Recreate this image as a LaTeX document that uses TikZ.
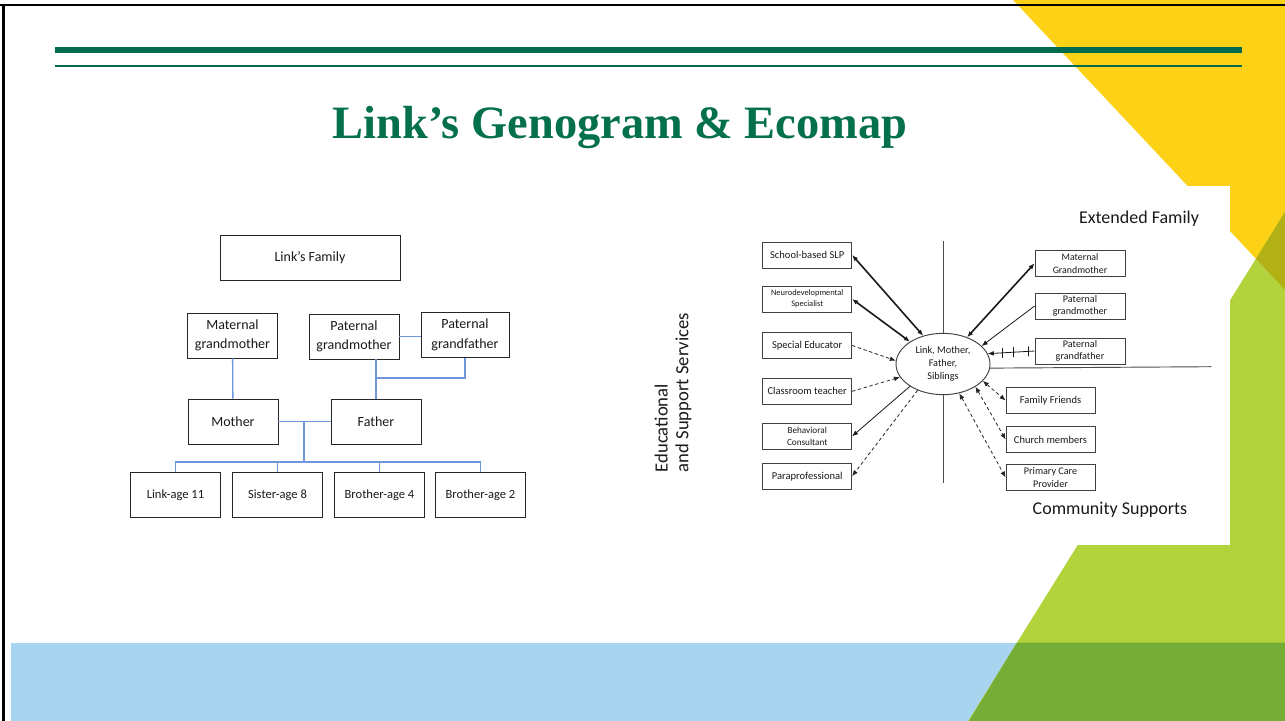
\documentclass[tikz,border=0pt]{standalone}
\usepackage{fontspec}
\setsansfont{Carlito}
\newfontfamily\titlefont{Liberation Serif}
\usepackage{xcolor}
\usetikzlibrary{arrows.meta,shapes.geometric}
\definecolor{slidegreen}{HTML}{006B4F}
\definecolor{titlegreen}{HTML}{04704D}
\definecolor{sunyellow}{HTML}{FCD116}
\definecolor{limegreen}{HTML}{B2D33C}
\definecolor{leafgreen}{HTML}{75AD37}
\definecolor{olivemix}{HTML}{B3B015}
\definecolor{skyblue}{HTML}{A8D4EF}
\definecolor{famblue}{HTML}{6F95DB}
\definecolor{inkgray}{HTML}{1A1A1A}

\begin{document}
\begin{tikzpicture}[x=0.75pt,y=-0.75pt,>={Latex[length=4.5pt,width=3.6pt]},
    genobox/.style={draw=black!85,line width=0.7pt,align=center,inner sep=0pt,
        font=\sffamily\fontsize{10.5}{14.5}\selectfont,text=inkgray,
        minimum width=67.5pt,minimum height=33.75pt},
    kidbox/.style={genobox,font=\sffamily\fontsize{9.4}{11}\selectfont},
    ecobox/.style={draw=black!75,line width=0.6pt,align=center,inner sep=0pt,
        font=\sffamily\fontsize{7.9}{9.5}\selectfont,text=inkgray,
        minimum width=66.75pt,minimum height=19.5pt},
    famline/.style={famblue,line width=1pt},
    axis/.style={black!70,line width=0.7pt},
    strongtie/.style={<->,line width=1.2pt,black!90},
    tie/.style={line width=0.6pt,black!90},
    weaktie/.style={line width=0.6pt,black!85,dash pattern=on 2.5pt off 2pt},
    cutmark/.style={draw=black!90,line width=0.6pt,minimum width=0pt,minimum height=7.5pt,inner sep=0pt},
    heading/.style={font=\sffamily\fontsize{13.5}{16}\selectfont,text=inkgray}]

\fill[white] (0,0) rectangle (1285,721);
\clip (0,0) rectangle (1285,721);

% slide background
\fill[skyblue] (11,642.7) rectangle (1290,730);
\fill[sunyellow] (1013,0) -- (1290,0) -- (1290,295) -- cycle;
\fill[limegreen] (963.5,728.5) -- (1290,204) -- (1290,730) -- cycle;
\begin{scope}
    \clip (1013,0) -- (1290,0) -- (1290,295) -- cycle;
    \fill[olivemix] (963.5,728.5) -- (1290,204) -- (1290,730) -- cycle;
\end{scope}
\fill[leafgreen] (1016.9,642.7) -- (1290,642.7) -- (1290,730) -- (963.5,730) -- cycle;
\fill[white] (735,186) rectangle (1230,545);
\draw[slidegreen,line width=4.5pt] (55,49.7) -- (1242,49.7);
\draw[slidegreen,line width=1.6pt] (55,66) -- (1242,66);
\draw[black,line width=1.6pt] (0,5) -- (1285,5);
\draw[black,line width=1.6pt] (3.5,5) -- (3.5,721);

\node[font=\titlefont\bfseries\fontsize{34.8}{40}\selectfont,text=titlegreen,anchor=base]
    (title) at (620,138) {Link’s Genogram \& Ecomap};

% genogram
\node[genobox,minimum width=135pt] (family) at (310,257.5) {Link’s Family};
\node[genobox] (matgm) at (232.5,335.5) {Maternal\\grandmother};
\node[genobox] (patgm) at (354,336.5) {Paternal\\grandmother};
\node[genobox,minimum width=66pt] (patgf) at (465,335) {Paternal\\grandfather};
\node[genobox] (mother) at (233,421.5) {Mother};
\node[genobox] (father) at (376,421.5) {Father};
\node[kidbox] (link) at (175.5,495) {Link-age 11};
\node[kidbox] (sister) at (277.5,495) {Sister-age 8};
\node[kidbox] (brofour) at (379.5,495) {Brother-age 4};
\node[kidbox] (brotwo) at (480.5,495) {Brother-age 2};

\coordinate (pjoin) at (376,378);
\coordinate (sibbar) at (304,462);
\draw[famline] (matgm) -- (mother);
\draw[famline] (patgm.east) -- (patgf.west |- patgm.east);
\draw[famline] (father.north) -- (father.north |- patgm.south);
\draw[famline] (patgf.south) |- (pjoin);
\draw[famline] (mother.east) -- (father.west);
\draw[famline] (sibbar |- mother.east) -- (sibbar);
\foreach \kid in {link,sister,brofour,brotwo}
    \draw[famline] (\kid.north) |- (sibbar);

% ecomap
\node[ellipse,draw=black!75,line width=0.7pt,minimum width=70.5pt,minimum height=46pt,inner sep=0pt,
    align=center,font=\sffamily\fontsize{7.7}{9.6}\selectfont,text=inkgray]
    (ego) at (943,364) {Link, Mother,\\Father,\\Siblings};

\node[ecobox] (slp) at (807.2,255) {School-based SLP};
\node[ecobox,font=\sffamily\fontsize{6.3}{8.2}\selectfont] (neuro) at (807.2,299) {Neurodevelopmental\\Specialist};
\node[ecobox] (sped) at (807.2,345.5) {Special Educator};
\node[ecobox] (clt) at (807.2,391.3) {Classroom teacher};
\node[ecobox,font=\sffamily\fontsize{6.9}{8.8}\selectfont] (behav) at (807.2,436.3) {Behavioral\\Consultant};
\node[ecobox] (para) at (807.2,476.2) {Paraprofessional};

\node[ecobox,minimum width=67.5pt,font=\sffamily\fontsize{7.4}{9.5}\selectfont] (mgm) at (1080,263.3) {Maternal\\Grandmother};
\node[ecobox,minimum width=67.5pt,font=\sffamily\fontsize{7.6}{9.5}\selectfont] (pgm) at (1080,306) {Paternal\\grandmother};
\node[ecobox,minimum width=67.5pt,font=\sffamily\fontsize{7.6}{9.5}\selectfont] (pgf) at (1080,351) {Paternal\\grandfather};

\node[ecobox] (friends) at (1050.5,400.5) {Family Friends};
\node[ecobox] (church) at (1050.5,439.5) {Church members};
\node[ecobox,font=\sffamily\fontsize{7.6}{9.2}\selectfont] (pcp) at (1050.5,477.5) {Primary Care\\Provider};

\node[heading] (extended) at (1139,219) {Extended Family};
\node[heading] (community) at (1110,509.3) {Community Supports};
\node[heading,rotate=90,anchor=north west,align=left,font=\sffamily\fontsize{14}{15.5}\selectfont]
    (services) at (650,477) {Educational\\and Support Services};

\coordinate (axtop) at (943,241);
\coordinate (axbottom) at (943,483.3);
\coordinate (axright) at (1211,366.7);
\draw[axis] (ego.north) -- (axtop);
\draw[axis] (ego.south) -- (axbottom);
\draw[axis] (ego.-5) -- (axright);

\draw[strongtie] (slp.east) -- (ego.125);
\draw[strongtie] (neuro.east) -- (ego.146);
\draw[weaktie,->] (sped.east) -- (ego.176);
\draw[weaktie,->] (clt.east) -- (ego.197);
\draw[tie,->] (ego.214) -- (behav.east);
\draw[weaktie,->] (ego.226) -- (para.east);
\draw[strongtie] (ego.48) -- (mgm.west);
\draw[tie,->] (pgm.west) -- (ego.25);
\draw[tie,->] (pgf.west) -- (ego.13)
    node[cutmark,pos=0.14] {} node[cutmark,pos=0.46] {} node[cutmark,pos=0.68] {};
\draw[weaktie,<->] (ego.-23) -- (friends.west);
\draw[weaktie,<->] (ego.-35) -- (church.west);
\draw[weaktie,<->] (ego.-61) -- (pcp.west);
\end{tikzpicture}
\end{document}
